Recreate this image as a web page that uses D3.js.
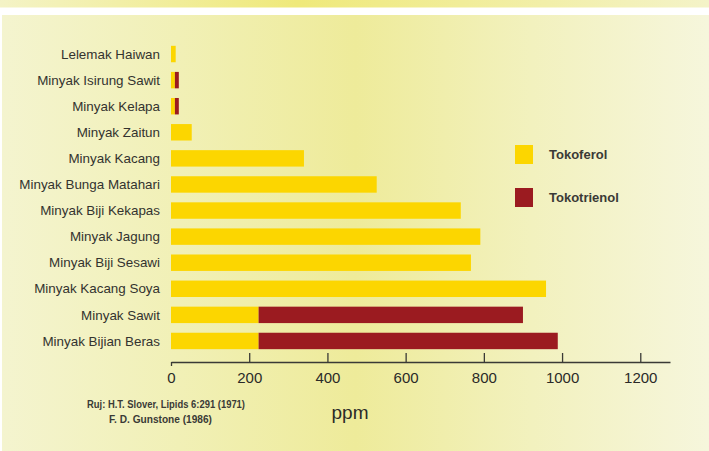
<!DOCTYPE html>
<html>
<head>
<meta charset="utf-8">
<script src="https://cdn.jsdelivr.net/npm/d3@7"></script>
<style>
  html, body { margin: 0; padding: 0; background: #fff; }
  svg { display: block; font-family: "Liberation Sans", Arial, sans-serif; }
</style>
</head>
<body>
<div id="chart"></div>
<script>
// data (ppm)
const categories = [
  "Lelemak Haiwan", "Minyak Isirung Sawit", "Minyak Kelapa", "Minyak Zaitun",
  "Minyak Kacang", "Minyak Bunga Matahari", "Minyak Biji Kekapas", "Minyak Jagung",
  "Minyak Biji Sesawi", "Minyak Kacang Soya", "Minyak Sawit", "Minyak Bijian Beras"
];
const tokoferol   = [12, 10, 10, 53, 340, 526, 741, 791, 767, 959, 224, 224];
const tokotrienol = [0, 10, 10, 0, 0, 0, 0, 0, 0, 0, 676, 765];
const seriesNames = ["Tokoferol", "Tokotrienol"];
const seriesColors = ["#fcd600", "#9b1b20"];
const tickValues = [0, 200, 400, 600, 800, 1000, 1200];
const sourceLines = ["Ruj: H.T. Slover, Lipids 6:291 (1971)", "F. D. Gunstone (1986)"];

const width = 709, height = 451;

const svg = d3.select("#chart").append("svg")
    .attr("width", width)
    .attr("height", height);

// background gradients
const defs = svg.append("defs");
const bandGrad = defs.append("linearGradient").attr("id", "bandGrad");
bandGrad.selectAll("stop")
  .data([[0, "#f4f3c6"], [0.42, "#efe97a"], [1, "#f4f3c8"]])
  .join("stop").attr("offset", d => d[0]).attr("stop-color", d => d[1]);

const panelGrad = defs.append("linearGradient").attr("id", "panelGrad");
panelGrad.selectAll("stop")
  .data([[0, "#f4f4cf"], [0.25, "#f1f0b6"], [0.5, "#eeeb9a"], [0.75, "#f2f1be"], [1, "#f6f6dc"]])
  .join("stop").attr("offset", d => d[0]).attr("stop-color", d => d[1]);

svg.append("rect").attr("x", 0).attr("y", 0).attr("width", width).attr("height", 7.5)
  .attr("fill", "url(#bandGrad)");
svg.append("rect").attr("x", 2).attr("y", 15).attr("width", width - 2).attr("height", height - 15)
  .attr("fill", "url(#panelGrad)");

// scales
const x = d3.scaleLinear().domain([0, 1276]).range([171, 670]);
const y = d3.scaleBand().domain(categories).range([41, 354])
  .paddingInner(0.37).paddingOuter(0.185);

const rows = categories.map((c, i) => ({ name: c, Tokoferol: tokoferol[i], Tokotrienol: tokotrienol[i] }));
const stacked = d3.stack().keys(seriesNames)(rows);

svg.append("g")
  .selectAll("g")
  .data(stacked)
  .join("g")
    .attr("fill", (d, i) => seriesColors[i])
  .selectAll("rect")
  .data(d => d.filter(p => p[1] > p[0]))
  .join("rect")
    .attr("x", d => x(d[0]))
    .attr("y", d => y(d.data.name))
    .attr("width", d => x(d[1]) - x(d[0]))
    .attr("height", y.bandwidth());

// category labels
svg.append("g")
  .selectAll("text")
  .data(categories)
  .join("text")
    .attr("x", 160)
    .attr("y", d => y(d) + y.bandwidth() / 2)
    .attr("dy", "0.35em")
    .attr("text-anchor", "end")
    .attr("font-size", 13.4)
    .attr("fill", "#33332f")
    .text(d => d);

// x axis
const axisY = 362;
const axis = svg.append("g")
  .attr("transform", `translate(0,${axisY})`)
  .call(d3.axisBottom(x).tickValues(tickValues).tickFormat(d3.format("d"))
    .tickSizeInner(-9).tickSizeOuter(0).tickPadding(10));
axis.select(".domain").attr("stroke", "#3a3a36").attr("stroke-width", 1.3);
axis.selectAll(".tick line").attr("stroke", "#3a3a36").attr("stroke-width", 1.3)
  .filter(d => d === 0).attr("y2", 4);
axis.selectAll(".tick text")
  .attr("font-size", 15)
  .attr("fill", "#2a2a28")
  .attr("font-family", "'Liberation Sans', Arial, sans-serif");

svg.append("text")
  .attr("x", 350).attr("y", 412).attr("dy", "0.35em")
  .attr("text-anchor", "middle")
  .attr("font-size", 19)
  .attr("fill", "#2a2a28")
  .text("ppm");

// source
svg.append("g")
  .selectAll("text")
  .data(sourceLines)
  .join("text")
    .attr("x", (d, i) => i === 0 ? 87 : 109)
    .attr("y", (d, i) => 404 + i * 15)
    .attr("dy", "0.35em")
    .attr("font-size", 10.5)
    .attr("font-weight", 600)
    .attr("fill", "#3a3a36")
    .attr("textLength", (d, i) => i === 0 ? 158 : 103)
    .attr("lengthAdjust", "spacingAndGlyphs")
    .text(d => d);

// legend
const legend = svg.append("g")
  .selectAll("g")
  .data(seriesNames)
  .join("g")
    .attr("transform", (d, i) => `translate(515,${145 + i * 43})`);
legend.append("rect")
  .attr("width", 18).attr("height", 19)
  .attr("fill", (d, i) => seriesColors[i]);
legend.append("text")
  .attr("x", 34).attr("y", 9.5).attr("dy", "0.35em")
  .attr("font-size", 13)
  .attr("font-weight", "bold")
  .attr("fill", "#3a3a36")
  .text(d => d);
</script>
</body>
</html>
